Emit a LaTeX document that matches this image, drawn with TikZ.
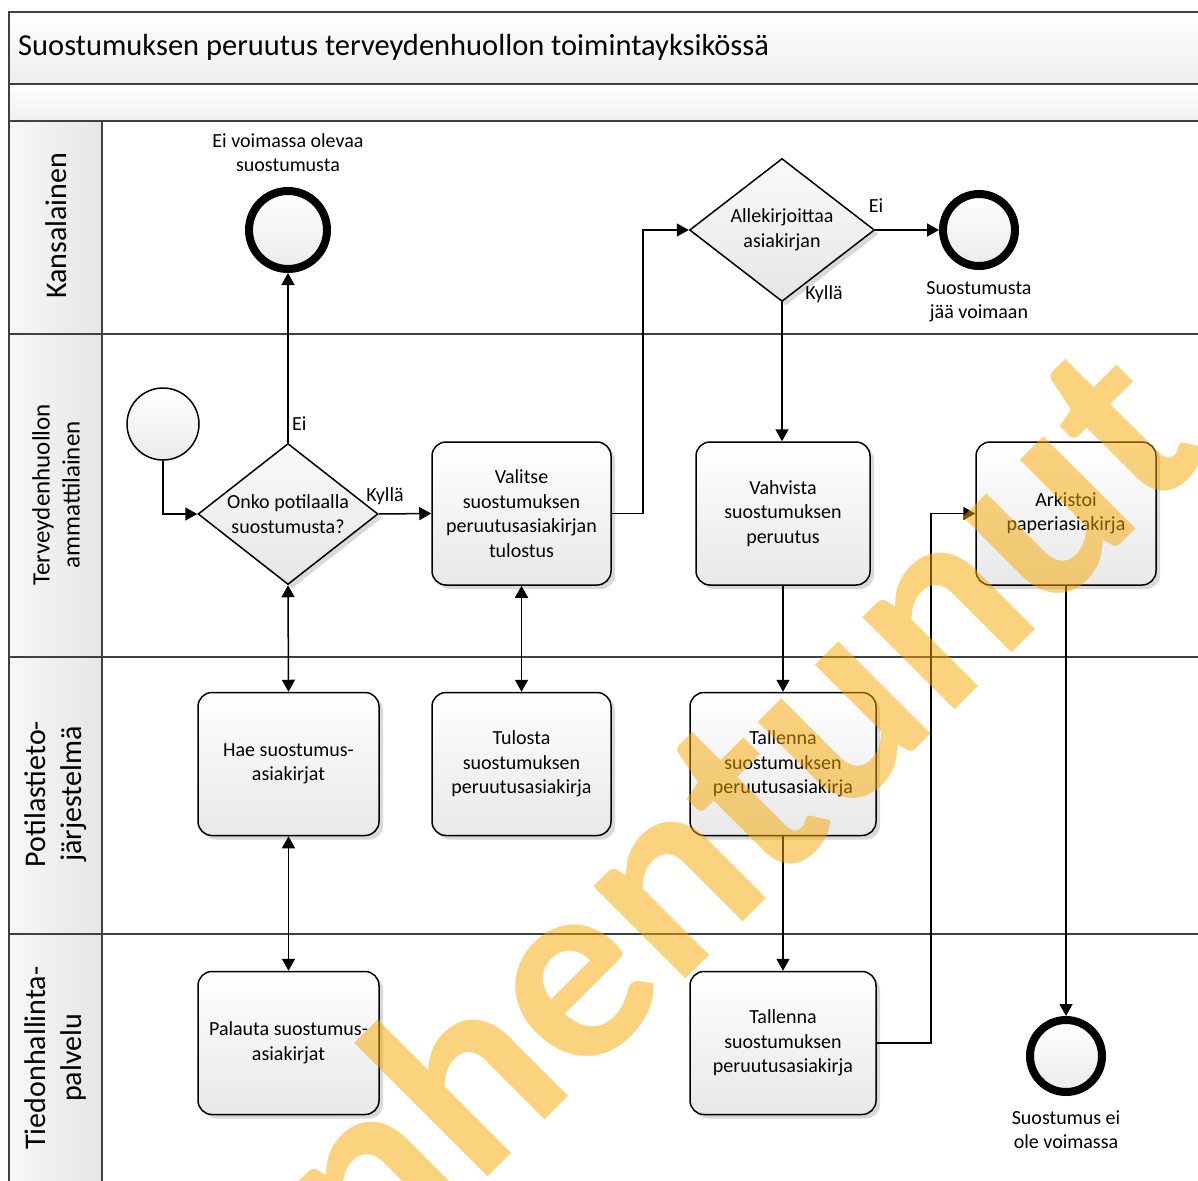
\documentclass[tikz,border=0pt]{standalone}
\usepackage{fontspec}
\setmainfont{Carlito}
\usetikzlibrary{shapes.geometric,arrows.meta,shadows}
\definecolor{lanegray}{HTML}{404040}
\definecolor{wmcol}{RGB}{247,167,0}
\tikzset{
  lane/.style={draw=lanegray, line width=2pt},
  lanelabel/.style={rotate=90, align=center, font=\fontsize{30}{36}\selectfont, inner sep=0pt},
  task/.style={draw=black, line width=1.5pt, rounded corners=14pt, top color=white, bottom color=black!9,
    minimum height=143pt, inner sep=0pt, align=center, font=\fontsize{20}{24.5}\selectfont,
    drop shadow={shadow xshift=4pt, shadow yshift=-4pt, fill=black!15, opacity=1}},
  gateway/.style={diamond, draw=black, line width=1.5pt, top color=black!2, bottom color=black!10,
    minimum width=180pt, minimum height=141pt, inner sep=0pt,
    drop shadow={shadow xshift=4pt, shadow yshift=-4pt, fill=black!15, opacity=1}},
  gwtext/.style={align=center, font=\fontsize{20}{24.5}\selectfont, inner sep=0pt},
  endev/.style={circle, draw=black, line width=8pt, top color=white, bottom color=black!8, inner sep=0pt},
  startev/.style={circle, draw=black, line width=1.5pt, top color=white, bottom color=black!8, minimum size=72pt, inner sep=0pt},
  lbl/.style={align=center, font=\fontsize{20}{24}\selectfont, inner sep=0pt},
  flow/.style={draw=black, line width=1.5pt, -{Triangle[length=12pt,width=13pt]}},
  dflow/.style={draw=black, line width=1.5pt, {Triangle[length=12pt,width=13pt]}-{Triangle[length=12pt,width=13pt]}}
}
\begin{document}
\begin{tikzpicture}[x=1pt,y=-1pt]
\useasboundingbox (0,0) rectangle (1198,1180);
\clip (0,0) rectangle (1198,1180);
% pool background
\path[top color=white, bottom color=black!7] (9,12) rectangle (1210,84);
\path[top color=white, bottom color=black!6] (9,84) rectangle (1210,121);
\foreach \a/\b in {121/334,334/657,657/934,934/1200}
  \path[left color=black!3, right color=black!10] (9,\a) rectangle (102,\b);
\draw[lane] (1210,12) -- (9,12) -- (9,1200);
\foreach \yy in {84,121,334,657,934}
  \draw[lane] (9,\yy) -- (1210,\yy);
\draw[lane] (102,121) -- (102,1200);
% title and lane labels
\node[anchor=west, font=\fontsize{30.5}{36}\selectfont, inner sep=0pt] (title) at (18,47) {Suostumuksen peruutus terveydenhuollon toimintayksikössä};
\node[lanelabel] (l1) at (56,226) {Kansalainen};
\node[lanelabel, font=\fontsize{25}{30}\selectfont] (l2) at (56,495) {Terveydenhuollon\\ammattilainen};
\node[lanelabel] (l3) at (56,794) {Potilastieto-\\järjestelmä};
\node[lanelabel] (l4) at (56,1058) {Tiedonhallinta-\\palvelu};
% events
\node[endev, minimum size=78pt] (end1) at (288,230) {};
\node[lbl] (end1t) at (288,153) {Ei voimassa olevaa\\suostumusta};
\node[endev, minimum size=72pt] (end2) at (979,230) {};
\node[lbl] (end2t) at (979,302) {Suostumusta\\jää voimaan};
\node[endev, minimum size=72pt] (end3) at (1066,1056) {};
\node[lbl] (end3t) at (1066,1130) {Suostumus ei\\ole voimassa};
\node[startev] (start) at (163,424) {};
% gateways
\node[gateway] (g1) at (288,514) {};
\node[gwtext] (g1t) at (g1.center) {Onko potilaalla\\suostumusta?};
\node[gateway, minimum width=185pt, minimum height=143pt] (g2) at (782,230) {};
\node[gwtext] (g2t) at (g2.center) {Allekirjoittaa\\asiakirjan};
% tasks
\node[task, minimum width=179pt] (val) at (521.5,513.5) {Valitse\\suostumuksen\\peruutusasiakirjan\\tulostus};
\node[task, minimum width=174pt] (vah) at (783,513.5) {Vahvista\\suostumuksen\\peruutus};
\node[task, minimum width=180pt] (ark) at (1066,513.5) {Arkistoi\\paperiasiakirja};
\node[task, minimum width=181pt] (hae) at (288.5,764) {Hae suostumus-\\asiakirjat};
\node[task, minimum width=179pt] (tul) at (521.5,764) {Tulosta\\suostumuksen\\peruutusasiakirja};
\node[task, minimum width=186pt] (ptj) at (783,764) {Tallenna\\suostumuksen\\peruutusasiakirja};
\node[task, minimum width=181pt] (pal) at (288.5,1043) {Palauta suostumus-\\asiakirjat};
\node[task, minimum width=186pt] (thp) at (783,1043) {Tallenna\\suostumuksen\\peruutusasiakirja};
% flows
\draw[flow] (start.south) |- (g1.west);
\draw[flow] (g1.north) -- (end1.south);
\node[lbl, anchor=west] (ei1) at (292,424) {Ei};
\draw[flow] (g1.east) -- (val.west);
\node[lbl] (ky1) at (385,496) {Kyllä};
\draw[dflow] (g1.south) -- (hae.north);
\draw[dflow] (val.south) -- (tul.north);
\draw[dflow] (hae.south) -- (pal.north);
\draw[flow] (val.east) -- ++(31,0) |- (g2.west);
\draw[flow] (g2.east) -- (end2.west);
\node[lbl] (ei2) at (876,206) {Ei};
\draw[flow] (g2.south) -- (g2.south |- vah.north);
\node[lbl] (ky2) at (824,294) {Kyllä};
\draw[flow] (vah.south) -- (vah.south |- ptj.north);
\draw[flow] (ptj.south) -- (thp.north);
\draw[flow] (thp.east) -- ++(54,0) |- (ark.west);
\draw[flow] (ark.south) -- (end3.north);
% watermark
\node[anchor=base east, rotate=45, text=wmcol, text opacity=0.5, inner sep=0pt,
  font=\fontsize{269}{269}\selectfont\bfseries] (wm) at (1213,452) {Vanhentunut};
\end{tikzpicture}
\end{document}
